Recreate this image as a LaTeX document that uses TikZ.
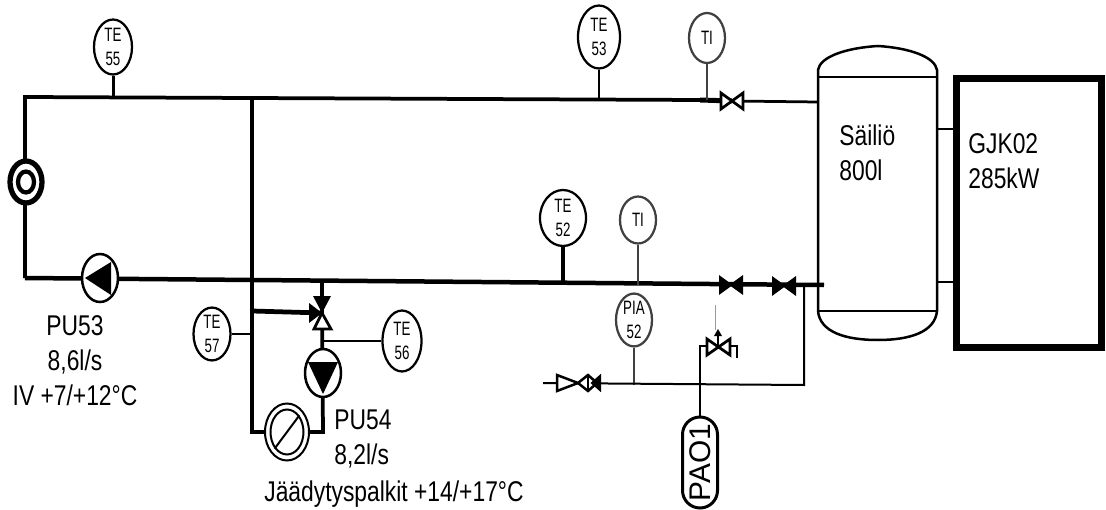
\documentclass[tikz,border=0pt]{standalone}
\usepackage{fontspec}
\setmainfont{Liberation Sans}
\usepackage{graphicx}
\usetikzlibrary{shapes.geometric,shapes.misc}
\newcommand{\tall}[1]{\scalebox{1}[1.45]{#1}}
\begin{document}
\begin{tikzpicture}[
			x=0.02cm, y=-0.02cm,
			pipe/.style={line width = 0.75mm},
			thinpipe/.style={line width = 0.4mm},
			hairpipe/.style={line width = 0.35mm, black!75},
			instr/.style={draw, ellipse, fill=white, inner sep=0pt, align=center, line width = 0.45mm, font=\fontsize{7.6}{13.6}\selectfont},
			tenode/.style={instr, minimum width=0.76cm, minimum height=1.1cm},
			tinode/.style={instr, draw=black!75, minimum width=0.72cm, minimum height=0.94cm},
			pumpnode/.style={draw, ellipse, fill=white, inner sep=0pt, line width = 0.5mm, minimum width=0.72cm, minimum height=0.96cm},
			lbl/.style={transform shape, yscale=1.25, inner sep=0pt, font=\fontsize{13}{16}\selectfont},
			openvalve/.style={draw, fill=white, line width = 0.55mm},
			darkvalve/.style={draw, fill=black, line width = 0.4mm}
		]

		\useasboundingbox (0,0) rectangle (1106,510);

		\coordinate (topleft) at (25,97);
		\coordinate (botleft) at (25,278);
		\coordinate (topbranch) at (252,98);
		\coordinate (botbranch) at (252,281);
		\coordinate (topmid) at (700,100);
		\coordinate (topvalve) at (732,101);
		\coordinate (toptank) at (818,102);
		\coordinate (botend) at (824,285);
		\coordinate (mixtop) at (322,281);
		\coordinate (mixcen) at (322,313);
		\coordinate (mixleft) at (252,311);
		\coordinate (filtleft) at (252,432);
		\coordinate (filtright) at (323,432);
		\coordinate (riser) at (804,285);
		\coordinate (riserlow) at (804,385);
		\coordinate (drain) at (543,383);
		\coordinate (safetyin) at (700,346);
		\coordinate (safetyout) at (737,346);
		\coordinate (safetyend) at (737,358);
		\coordinate (safetyup) at (718,347);
		\coordinate (faintlow) at (715,330);
		\coordinate (faintup) at (715,305);

		\node[tenode] (te55) at (113,47) {\tall{TE}\\\tall{55}};
		\node[tenode, minimum width=0.84cm, minimum height=1.26cm] (te53) at (599,37) {\tall{TE}\\\tall{53}};
		\node[tinode, minimum height=1.0cm] (titop) at (707,38) {\tall{TI}};
		\node[tenode, minimum width=0.92cm, minimum height=1.12cm] (te52) at (563,218) {\tall{TE}\\\tall{52}};
		\node[tinode] (tibot) at (638,220) {\tall{TI}};
		\node[tinode] (pia52) at (634,320) {\tall{PIA}\\\tall{52}};
		\node[tenode, minimum width=0.74cm, minimum height=1.04cm] (te57) at (212,334) {\tall{TE}\\\tall{57}};
		\node[tenode, minimum width=0.78cm, minimum height=1.22cm] (te56) at (402,341) {\tall{TE}\\\tall{56}};

		\draw[pipe] (botleft) -- (topleft) -- (topmid);
		\draw[pipe, line width = 1mm] (topmid) -- (topvalve);
		\draw[thinpipe, line width = 0.55mm] (topvalve) -- (toptank);
		\draw[pipe, line width = 0.9mm] (botleft) -- (botend);
		\draw[pipe] (topbranch) -- (filtleft) -- (filtright) -- (mixcen);
		\draw[pipe] (mixtop) -- (mixcen);
		\draw[pipe, line width = 0.95mm] (mixleft) -- (mixcen);

		\draw[pipe, line width = 0.6mm] (te55) -- (te55 |- topleft);
		\draw[thinpipe, line width = 0.5mm] (te53) -- (te53 |- topmid);
		\draw[hairpipe] (titop) -- (titop |- topmid);
		\draw[pipe, line width = 0.7mm] (te52) -- (te52 |- botend);
		\draw[hairpipe] (tibot) -- (tibot |- botend);
		\draw[hairpipe] (pia52) -- (pia52 |- riserlow);
		\draw[thinpipe] (te57) -- (te57 -| topbranch);
		\draw[pipe, line width = 0.55mm] (te56) -- (te56 -| filtright);
		\draw[thinpipe] (drain) -- (riserlow) -- (riser);
		\draw[black!40, line width = 0.2mm] (faintup) -- (faintlow);

		\node[pumpnode] (pu53) at (100,278) {};
		\fill (85,278) -- (111,262) -- (111,295) -- cycle;
		\node[pumpnode] (pu54) at (323,373) {};
		\fill (308,362) -- (338,362) -- (323,394) -- cycle;

		\node[draw, ellipse, fill=white, inner sep=0pt, line width = 1.05mm, minimum width=0.64cm, minimum height=0.84cm] (coil) at (26,182) {};
		\node[draw, ellipse, fill=white, inner sep=0pt, line width = 0.85mm, minimum width=0.32cm, minimum height=0.42cm] (coilin) at (26,182) {};

		\node[draw, ellipse, fill=white, inner sep=0pt, line width = 0.4mm, minimum width=0.88cm, minimum height=1.14cm] (filt) at (287,432) {};
		\node[draw, ellipse, inner sep=0pt, line width = 0.4mm, minimum width=0.66cm, minimum height=0.9cm] (filtin) at (287,432) {};
		\draw[thinpipe] (filtin.south west) -- (filtin.north east);

		\fill (313,296) -- (331,296) -- (322,313) -- cycle;
		\fill (309,303) -- (309,323) -- (322,313) -- cycle;
		\draw[openvalve] (314,329) -- (331,329) -- (322,313) -- cycle;

		\draw[openvalve] (721,93) -- (721,109) -- (743,93) -- (743,109) -- cycle;

		\draw[darkvalve] (720,277) -- (720,293) -- (742,277) -- (742,293) -- cycle;
		\draw[darkvalve] (773,278) -- (773,294) -- (795,278) -- (795,294) -- cycle;

		\draw[openvalve] (707,339) -- (707,355) -- (730,339) -- (730,355) -- cycle;
		\fill (718,329) -- (722,336) -- (714,336) -- cycle;
		\draw[thinpipe] (718,336) -- (safetyup);

		\draw[openvalve, line width = 0.5mm] (557,375) -- (557,391) -- (578,383) -- cycle;
		\draw[openvalve, line width = 0.5mm] (578,383) -- (588,375) -- (597,383) -- (588,391) -- cycle;
		\draw[thinpipe] (588,375) -- (588,391);
		\draw[darkvalve] (600,376) -- (600,390) -- (592,383) -- cycle;

		\node[draw, rounded rectangle, rotate=90, inner sep=0pt, line width = 0.6mm, minimum width=1.82cm, minimum height=0.7cm, font=\fontsize{17}{20}\selectfont] (pao1) at (700,462.5) {PAO1};
		\draw[thinpipe, line width = 0.5mm] (pao1.east) -- (safetyin) -- (707,346);
		\draw[thinpipe, line width = 0.5mm] (730,346) -- (safetyout) -- (safetyend);

		\draw[thinpipe, line width = 0.5mm] (818,311) -- (818,70) .. controls (820,57) and (845,48) .. (878,46) .. controls (910,48) and (935,57) .. (937,70) -- (937,311);
		\draw[thinpipe, line width = 0.5mm] (818,311) .. controls (820,332) and (845,340) .. (878,340) .. controls (910,340) and (935,332) .. (937,311);
		\coordinate (capleftA) at (818,77);
		\coordinate (caprightA) at (937,77);
		\coordinate (capleftB) at (818,311);
		\coordinate (caprightB) at (937,311);
		\draw[thinpipe] (capleftA) -- (caprightA);
		\draw[thinpipe] (capleftB) -- (caprightB);

		\node[draw, minimum width=2.9cm, minimum height=5.38cm, line width = 1.5mm] (gjk) at (1029,213) {};
		\coordinate (tanksideA) at (937,129);
		\coordinate (tanksideB) at (937,282);
		\draw[thinpipe] (tanksideA) -- (tanksideA -| gjk.west);
		\draw[thinpipe] (tanksideB) -- (tanksideB -| gjk.west);

		\node[lbl, anchor=west, align=left] (tanktxt) at (839,153) {Säiliö\\800l};
		\node[lbl, anchor=west, align=left] (gjktxt) at (968,161) {GJK02\\285kW};
		\node[lbl, align=center] (pu53txt) at (75,361) {PU53\\8,6l/s\\IV +7/+12°C};
		\node[lbl, anchor=west, align=left] (pu54txt) at (334,439) {PU54\\8,2l/s};
		\node[lbl] (beamtxt) at (394,494) {Jäädytyspalkit +14/+17°C};


	\end{tikzpicture}
\end{document}
